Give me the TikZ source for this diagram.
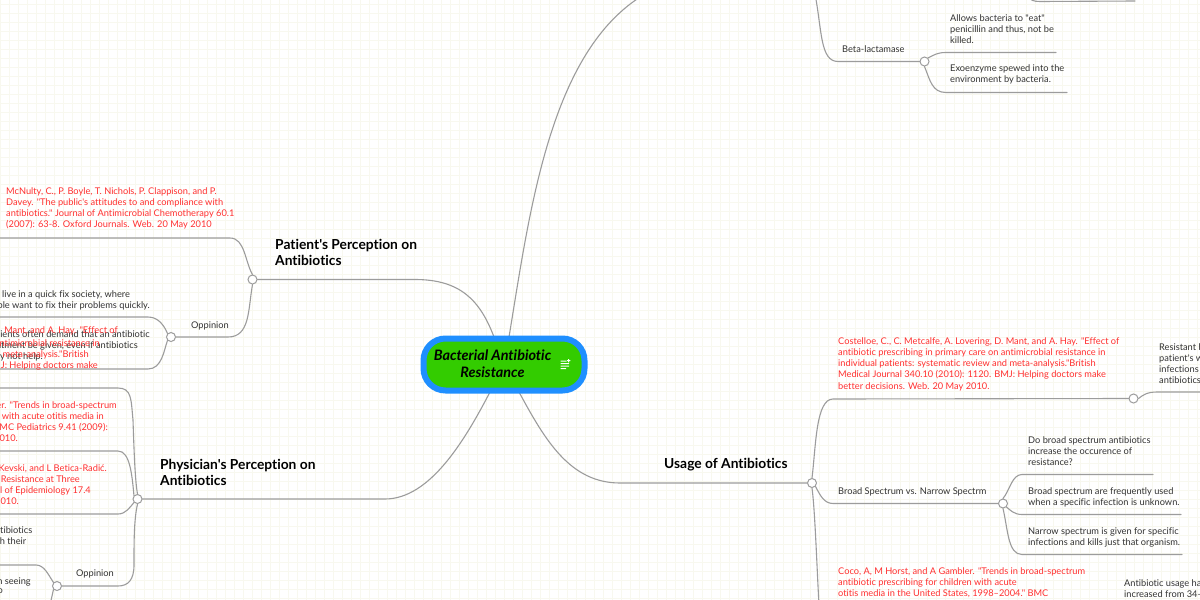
\documentclass[tikz,border=0pt]{standalone}
\usepackage{fontspec}
\setmainfont{Lato}[Ligatures={TeXOff,CommonOff}]
\usetikzlibrary{backgrounds}
\definecolor{linegray}{HTML}{9C9C9C}
\definecolor{refred}{HTML}{FF3030}
\definecolor{txtgray}{HTML}{333333}
\definecolor{gridc}{HTML}{F8F8EF}
\definecolor{hubblue}{HTML}{1F8FFF}
\definecolor{hubgreen}{HTML}{33CC00}
\tikzset{
 txtl/.style={anchor=north west,yshift=-1.2pt,inner sep=0pt,align=left,text=txtgray,font=\fontsize{9.25}{11.25}\selectfont},
 txtr/.style={anchor=north east,yshift=-1.2pt,inner sep=0pt,align=right,text=txtgray,font=\fontsize{9.25}{11.25}\selectfont},
 refl/.style={txtl,text=refred},
 refr/.style={txtr,text=refred},
 topic/.style={anchor=north west,yshift=-1pt,inner sep=0pt,align=left,text=black,font=\fontsize{13.8}{16}\selectfont\bfseries},
 knob/.style={circle,draw=linegray,fill=white,line width=1pt,minimum size=9pt,inner sep=0pt},
 conn/.style={draw=linegray,line width=1.1pt,line cap=round},
 hubnode/.style={rounded corners=22pt,draw=hubblue,fill=hubgreen,line width=6pt,minimum width=161pt,minimum height=52pt,inner sep=0pt}
}
\begin{document}
\begin{tikzpicture}[x=1pt,y=-1pt]
\useasboundingbox (0,0) rectangle (1200,600);
\clip (0,0) rectangle (1200,600);
% nodes
\node[hubnode] (hub) at (504,364.5) {};
\node[anchor=center,align=center,inner sep=0pt,font=\fontsize{14.4}{17}\selectfont\bfseries\itshape] (title) at (492.5,363.5) {Bacterial Antibiotic\\Resistance};
\node[knob] (kPat) at (252.5,279.5) {};
\node[knob] (kPatOp) at (171,337) {};
\node[knob] (kPhy) at (137.5,499) {};
\node[knob] (kPhyOp) at (57,586) {};
\node[knob] (kUse) at (812,483) {};
\node[knob] (kBeta) at (924.5,61.5) {};
\node[knob] (kCost) at (1133.5,398.5) {};
\node[knob] (kBroad) at (1003,503.5) {};
% free ends
\coordinate (fPat1) at (0,238);
\coordinate (fPat2) at (0,317);
\coordinate (fPat3) at (0,369);
\coordinate (fPhy1) at (0,388);
\coordinate (fPhy2) at (0,451);
\coordinate (fPhy3) at (0,514);
\coordinate (fOp1) at (0,565);
\coordinate (fOp2) at (50,605);
\coordinate (fTop) at (645,-6);
\coordinate (fBetaUp) at (815,-6);
\coordinate (fTopR) at (1135,1);
\coordinate (fTopL) at (1028,-3);
\coordinate (fB1) at (1056,52.5);
\coordinate (fB2) at (1067,92.5);
\coordinate (fCost) at (1205,392);
\coordinate (fS1) at (1153,474.5);
\coordinate (fS2) at (1181,514.5);
\coordinate (fS3) at (1182,554.5);
\coordinate (fUseDown) at (819,605);
% background
\begin{scope}[on background layer]
\fill[white] (0,0) rectangle (1200,600);
\foreach \i in {0,9,...,1197} {\draw[gridc,line width=0.8pt] (\i+0.5,0) -- (\i+0.5,600);}
\foreach \j in {4,13,...,598} {\draw[gridc,line width=0.8pt] (0,\j+0.5) -- (1200,\j+0.5);}
% centre branches
\draw[conn] (494,337) .. controls (480,300) and (460,279.5) .. (415,279.5) -- (kPat.east);
\draw[conn] (509,337) .. controls (530,210) and (550,50) .. (fTop);
\draw[conn] (490,392) .. controls (465,440) and (430,499) .. (385,499) -- (kPhy.east);
\draw[conn] (519,392) .. controls (545,440) and (570,483) .. (620,483) -- (kUse.west);
% patient
\draw[conn] (fPat1) -- (230,238) .. controls (245,238) and (245,262) .. (kPat.north);
\draw[conn] (kPat.south) .. controls (248,310) and (250,337) .. (228,337) -- (kPatOp.east);
\draw[conn] (kPatOp.north west) .. controls (164,325) and (158,317) .. (148,317) -- (fPat2);
\draw[conn] (kPatOp.south west) .. controls (164,350) and (162,369) .. (148,369) -- (fPat3);
% physician
\draw[conn] (fPhy1) -- (118,388) .. controls (132,388) and (131,400) .. (133,420) .. controls (134,450) and (135,480) .. (kPhy.north);
\draw[conn] (fPhy2) -- (118,451) .. controls (130,451) and (132,475) .. (kPhy.north west);
\draw[conn] (fPhy3) -- (118,514) .. controls (126,514) and (130,507) .. (kPhy.south west);
\draw[conn] (kPhy.south) .. controls (134,520) and (134,540) .. (134,565) .. controls (134,580) and (128,586) .. (118,586) -- (kPhyOp.east);
\draw[conn] (kPhyOp.north west) .. controls (48,574) and (44,565) .. (36,565) -- (fOp1);
\draw[conn] (kPhyOp.south west) -- (fOp2);
% beta
\draw[conn] (fBetaUp) .. controls (822,30) and (820,61.5) .. (838,61.5) -- (kBeta.west);
\draw[conn] (kBeta.north east) .. controls (934,55) and (937,52.5) .. (946,52.5) -- (fB1);
\draw[conn] (kBeta.south) .. controls (930,80) and (932,92.5) .. (946,92.5) -- (fB2);
\draw[conn] (fTopL) .. controls (1031,0) and (1033,1.5) .. (1040,1.5) -- (fTopR);
% usage
\draw[conn] (kUse.north) .. controls (816,445) and (816,399) .. (833,399) -- (kCost.west);
\draw[conn] (kCost.east) .. controls (1143,395) and (1147,392) .. (1157,392) -- (fCost);
\draw[conn] (kUse.south east) .. controls (820,495) and (824,503.5) .. (833,503.5) -- (kBroad.west);
\draw[conn] (kUse.south) .. controls (815,510) and (817,570) .. (fUseDown);
\draw[conn] (kBroad.north) .. controls (1010,490) and (1012,474.5) .. (1022,474.5) -- (fS1);
\draw[conn] (kBroad.south east) .. controls (1010,510) and (1014,514.5) .. (1022,514.5) -- (fS2);
\draw[conn] (kBroad.south) .. controls (1008,530) and (1008,554.5) .. (1022,554.5) -- (fS3);
\end{scope}
% note icon
\fill[white] (560.5,360.5) rectangle (566.5,361.6) (560.5,363) rectangle (569,364.1) (560.5,365.5) rectangle (569,366.6) (560.5,368) rectangle (566,369.1);
\fill[white] (567,360.2) rectangle (570.4,361.1) (568.2,359) rectangle (569.1,362.3);
% topics
\node[topic] (tPat) at (275,238) {Patient's Perception on\\Antibiotics};
\node[topic] (tPhy) at (160,458) {Physician's Perception on\\Antibiotics};
\node[topic] (tUse) at (664,457) {Usage of Antibiotics};
% left text
\node[refl] (a1) at (6,186) {McNulty, C., P. Boyle, T. Nichols, P. Clappison, and P.\\Davey. "The public's attitudes to and compliance with\\antibiotics." Journal of Antimicrobial Chemotherapy 60.1\\(2007): 63-8. Oxford Journals. Web. 20 May 2010};
\node[txtl] (a2) at (2,289) {live in a quick fix society, where};
\node[txtr] (a3) at (150,300.2) {ple want to fix their problems quickly.};
\node[txtl,anchor=center] (op1) at (210,325) {Oppinion};
\node[txtr] (a5) at (150,329) {ients often demand that an antibiotic};
\node[txtr] (a6) at (138,340.2) {atment be given, even if antibiotics};
\node[txtr] (a7) at (43,351.5) {y not help.};
\node[refr] (a8) at (118,325) {Mant, and A. Hay. "Effect of};
\node[refr] (a9) at (100,338) {antimicrobial resistance in};
\node[refr] (a10) at (89,349) {d meta-analysis."British};
\node[refr] (a11) at (98,360.5) {J: Helping doctors make};
\node[refr] (b1a) at (117,400) {er. "Trends in broad-spectrum};
\node[refr] (b1b) at (104,411) {n with acute otitis media in};
\node[refr] (b1c) at (108,422) {BMC Pediatrics 9.41 (2009):};
\node[refr] (b1d) at (18,433.5) {010.};
\node[refr] (b2a) at (107,463) {Kevski, and L Betica-Radić.};
\node[refr] (b2b) at (80,474) {Resistance at Three};
\node[refr] (b2c) at (91,485) {l of Epidemiology 17.4};
\node[refr] (b2d) at (19,496) {010.};
\node[txtr] (b3a) at (32.5,525) {tibiotics};
\node[txtr] (b3b) at (26.5,536) {th their};
\node[txtl,anchor=center] (op2) at (95,573) {Oppinion};
\node[txtr] (b4a) at (31,576) {n seeing};
\node[txtr] (b4b) at (3,587) {o};
% right text
\node[txtl] (c1) at (842,44) {Beta-lactamase};
\node[txtl] (c2) at (950,13) {Allows bacteria to "eat"\\penicillin and thus, not be\\killed.};
\node[txtl] (c3) at (950,63.5) {Exoenzyme spewed into the\\environment by bacteria.};
\node[refl] (c4) at (838,336) {Costelloe, C., C. Metcalfe, A. Lovering, D. Mant, and A. Hay. "Effect of\\antibiotic prescribing in primary care on antimicrobial resistance in\\individual patients: systematic review and meta-analysis."British\\Medical Journal 340.10 (2010): 1120. BMJ: Helping doctors make\\better decisions. Web. 20 May 2010.};
\node[txtl] (c5) at (1159,342) {Resistant b\\patient's w\\infections\\antibiotics};
\node[txtl] (c6) at (838,486) {Broad Spectrum vs. Narrow Spectrm};
\node[txtl] (c7) at (1028,435) {Do broad spectrum antibiotics\\increase the occurence of\\resistance?};
\node[txtl] (c8) at (1028,486) {Broad spectrum are frequently used\\when a specific infection is unknown.};
\node[txtl] (c9) at (1028,526) {Narrow spectrum is given for specific\\infections and kills just that organism.};
\node[refl] (c10) at (838,566) {Coco, A, M Horst, and A Gambler. "Trends in broad-spectrum\\antibiotic prescribing for children with acute\\otitis media in the United States, 1998–2004." BMC};
\node[txtl] (c11) at (1124,578) {Antibiotic usage ha\\increased from 34–};
\end{tikzpicture}
\end{document}
